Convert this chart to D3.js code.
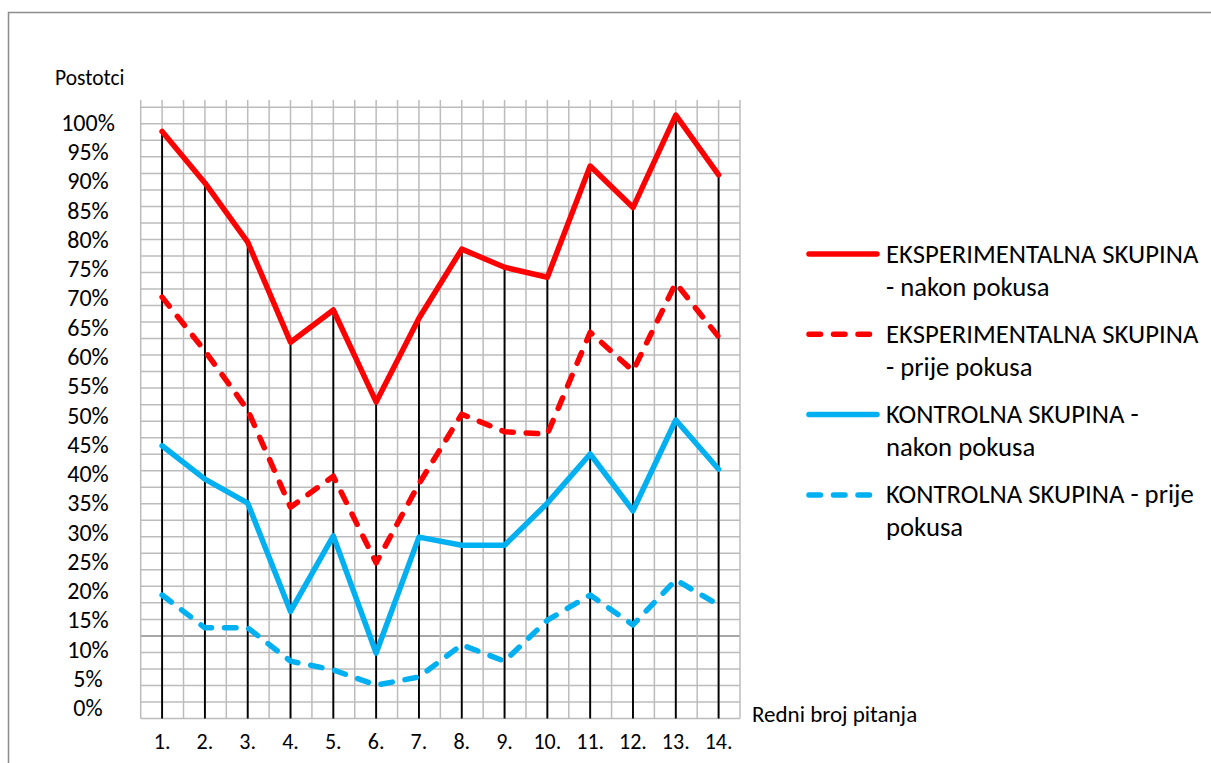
<!DOCTYPE html>
<html>
<head>
<meta charset="utf-8">
<script src="https://cdn.jsdelivr.net/npm/d3@7"></script>
<style>
  body { margin: 0; background: #fff; }
  svg { display: block; font-family: Calibri, Carlito, "Open Sans", sans-serif; }
</style>
</head>
<body>
<svg id="chart" width="1211" height="763"></svg>
<script>
// pitanja 1. - 14.
const questions = ["1.", "2.", "3.", "4.", "5.", "6.", "7.", "8.", "9.", "10.", "11.", "12.", "13.", "14."];

// postotci (0-100) po pitanju
const eksNakon = [98.5, 89.7, 79.6, 62.5, 68, 52.3, 66.6, 78.4, 75.3, 73.6, 92.6, 85.5, 101.3, 91.1];
const eksPrije = [70.2, 61, 50.9, 34.3, 39.6, 24.8, 38.3, 50.2, 47.2, 46.8, 64.2, 57.6, 72.6, 63.4];
const kontNakon = [44.8, 39.1, 35, 16.5, 29.4, 9.4, 29.2, 27.8, 27.8, 35, 43.4, 33.7, 49.2, 40.8];
const kontPrije = [19.3, 13.7, 13.7, 8, 6.5, 3.9, 5.3, 10.8, 8, 15, 19.3, 14.2, 21.9, 17.6];

const yTicks = d3.range(0, 101, 5);

const seriesNames = [
  ["EKSPERIMENTALNA SKUPINA", "- nakon pokusa"],
  ["EKSPERIMENTALNA SKUPINA", "- prije pokusa"],
  ["KONTROLNA SKUPINA -", "nakon pokusa"],
  ["KONTROLNA SKUPINA - prije", "pokusa"]
];

let series = [
  { name: seriesNames[0], values: eksNakon, color: "#ff0000", dash: null },
  { name: seriesNames[1], values: eksPrije, color: "#ff0000", dash: "11.5,13" },
  { name: seriesNames[2], values: kontNakon, color: "#00b0f0", dash: null },
  { name: seriesNames[3], values: kontPrije, color: "#00b0f0", dash: "11.5,13" }
];

let font = 'Calibri, Carlito, "Open Sans", sans-serif';
let svg = d3.select("#chart");

// okvir
svg.append("rect")
  .attr("x", 8.5).attr("y", 12.5)
  .attr("width", 1220).attr("height", 770)
  .attr("fill", "none")
  .attr("stroke", "#8c8c8c")
  .attr("stroke-width", 1.5);

let plotLeft = 140.7, plotRight = 740, plotTop = 100, plotBottom = 718.5;

let xScale = d3.scaleBand()
  .domain(questions)
  .range([plotLeft, plotRight])
  .padding(0);

let xc = function(q) { return xScale(q) + xScale.bandwidth() / 2; };

let yScale = d3.scaleLinear()
  .domain([0, 100])
  .range([708, 122.7]);

// pozadinska mreza (milimetarski papir)
let gridY = d3.scaleLinear().domain([0, 37]).range([plotBottom, 107.3]);
let grid = svg.append("g");

grid.selectAll("line.h")
  .data(d3.range(0, 38))
  .enter().append("line")
  .attr("class", "h")
  .attr("x1", plotLeft).attr("x2", plotRight)
  .attr("y1", d => gridY(d)).attr("y2", d => gridY(d))
  .attr("stroke", d => d === 5 ? "#8a8a8a" : "#bcbcbc")
  .attr("stroke-width", 1.5);

let halfStep = xScale.bandwidth() / 2;
grid.selectAll("line.v")
  .data(d3.range(0, questions.length * 2 + 1))
  .enter().append("line")
  .attr("class", "v")
  .attr("x1", d => plotLeft + d * halfStep).attr("x2", d => plotLeft + d * halfStep)
  .attr("y1", plotTop).attr("y2", plotBottom)
  .attr("stroke", "#bcbcbc")
  .attr("stroke-width", 1.5);

// okomite linije do osi
svg.append("g").selectAll("line")
  .data(questions)
  .enter().append("line")
  .attr("x1", d => xc(d)).attr("x2", d => xc(d))
  .attr("y1", (d, i) => yScale(d3.max(series, s => s.values[i])))
  .attr("y2", plotBottom)
  .attr("stroke", "#000")
  .attr("stroke-width", 1.9);

// linije serija
let line = d3.line()
  .x((d, i) => xc(questions[i]))
  .y(d => yScale(d));

svg.append("g").selectAll("path")
  .data(series.slice().reverse())
  .enter().append("path")
  .attr("d", d => line(d.values))
  .attr("fill", "none")
  .attr("stroke", d => d.color)
  .attr("stroke-width", 5.5)
  .attr("stroke-linecap", "round")
  .attr("stroke-linejoin", "round")
  .attr("stroke-dasharray", d => d.dash);

// y oznake
let yAxis = d3.axisLeft(yScale).tickValues(yTicks).tickSize(0).tickFormat(d => d + "%");
let yg = svg.append("g").attr("transform", "translate(88,0)").call(yAxis);
yg.select(".domain").remove();
yg.selectAll("text")
  .attr("x", 0)
  .attr("text-anchor", "middle")
  .style("font-family", font)
  .style("font-size", "24px")
  .attr("fill", "#000");

// x oznake
let xAxis = d3.axisBottom(xScale).tickSize(0);
let xg = svg.append("g").attr("transform", `translate(0,${plotBottom})`).call(xAxis);
xg.select(".domain").remove();
xg.selectAll("text")
  .attr("y", 0)
  .attr("dy", "30px")
  .style("font-family", font)
  .style("font-size", "22px")
  .attr("fill", "#000");

// nazivi osi
svg.append("text")
  .attr("x", 55).attr("y", 84.5)
  .style("font-size", "21.5px")
  .text("Postotci");

svg.append("text")
  .attr("x", 752).attr("y", 722)
  .style("font-size", "23px")
  .text("Redni broj pitanja");

// legenda
let legend = svg.append("g").selectAll("g")
  .data(series)
  .enter().append("g")
  .attr("transform", (d, i) => `translate(0,${254 + i * 80.3})`);

legend.append("line")
  .attr("x1", 809).attr("x2", d => d.dash ? 870 : 877)
  .attr("y1", 0).attr("y2", 0)
  .attr("stroke", d => d.color)
  .attr("stroke-width", 5.5)
  .attr("stroke-linecap", "round")
  .attr("stroke-dasharray", d => d.dash);

legend.each(function(d) {
  let g = d3.select(this);
  d.name.forEach(function(t, j) {
    g.append("text")
      .attr("x", 886)
      .attr("y", 8.5 + j * 33)
      .style("font-size", "26.7px")
      .text(t);
  });
});
</script>
</body>
</html>
